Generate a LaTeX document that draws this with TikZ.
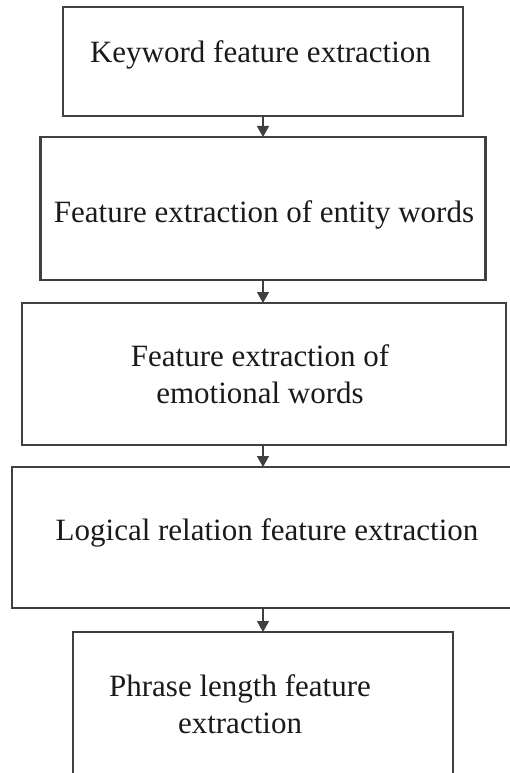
\documentclass[tikz,border=0pt]{standalone}
\usepackage{fontspec}
\setmainfont{Liberation Serif}
\usetikzlibrary{arrows.meta}
\definecolor{edgegray}{HTML}{404040}
\definecolor{textgray}{HTML}{1A1A1A}
\begin{document}
\begin{tikzpicture}[
    x=1pt, y=-1pt,
    block/.style 2 args={
        draw=edgegray,
        line width=2.4pt,
        minimum width=#1,
        minimum height=#2,
        inner sep=0pt,
        outer sep=0pt
    },
    steptext/.style={font=\fontsize{31}{37}\selectfont, text=textgray, inner sep=0pt, align=center},
    flow/.style={draw=edgegray, line width=1.4pt, -{Triangle[length=11pt,width=12pt]}}
]
\useasboundingbox (0,0) rectangle (510,773);
\clip (0,0) rectangle (510,773);

% ---- boxes (centre x, centre y; widths/heights in pt) ----
\node[block={400pt}{109pt}] (B1) at (263, 61.5) {};
\node[block={445pt}{143pt}] (B2) at (263, 208.5) {};
\node[block={484pt}{142pt}] (B3) at (264, 374) {};
\node[block={500pt}{141pt}] (B4) at (262, 537.5) {};
\node[block={380pt}{158pt}] (B5) at (263, 711) {};

% ---- texts ----
\node[steptext, anchor=base] (T1) at (260.5, 63) {Keyword feature extraction};
\node[steptext, anchor=base] (T2) at (264, 222) {Feature extraction of entity words};
\node[steptext] (T3) at (260, 374.5) {Feature extraction of\\emotional words};
\node[steptext, anchor=base] (T4) at (267, 540) {Logical relation feature extraction};
\node[steptext] (T5) at (240, 704.5) {Phrase length feature\\extraction};

% ---- arrows ----
\draw[flow] (B1.south) -- (B2.north);
\draw[flow] (B2.south) -- (B3.north -| B2.south);
\draw[flow] (B3.south -| B2.south) -- (B4.north -| B2.south);
\draw[flow] (B4.south -| B2.south) -- (B5.north);

\end{tikzpicture}
\end{document}
